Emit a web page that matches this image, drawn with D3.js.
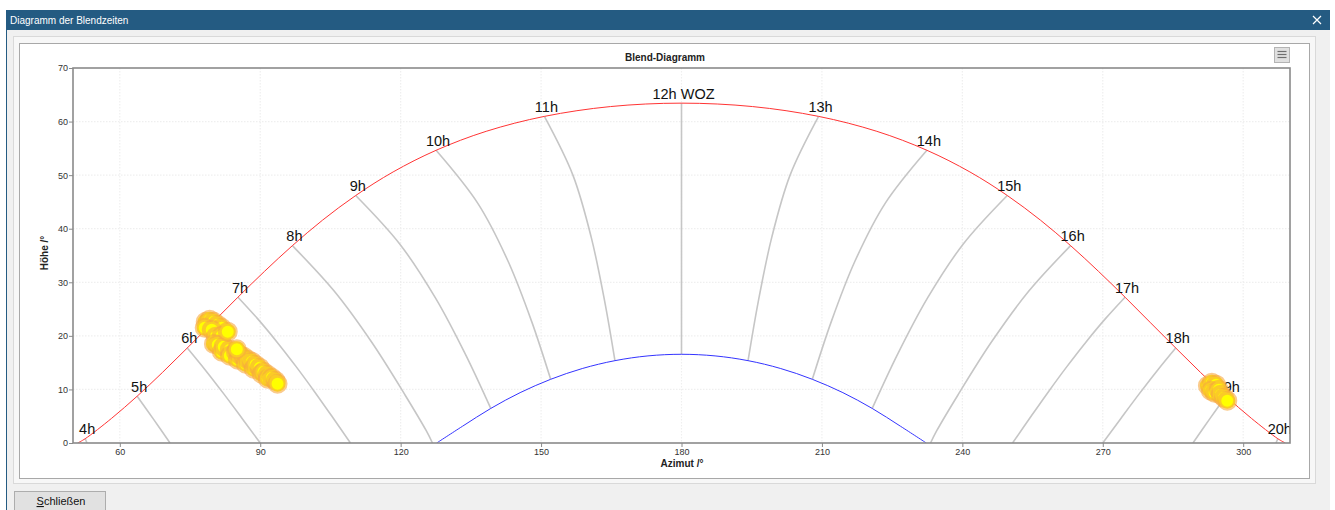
<!DOCTYPE html>
<html>
<head>
<meta charset="utf-8">
<script src="https://cdn.jsdelivr.net/npm/d3@7"></script>
<style>
  body { margin: 0; background: #fff; }
  svg { display: block; }
</style>
</head>
<body>
<svg id="chart" width="1335" height="510"></svg>
<script>
// achsen
var azTicks = [60, 90, 120, 150, 180, 210, 240, 270, 300];
var altTicks = [0, 10, 20, 30, 40, 50, 60, 70];

// sonnenbahn 21. juni (rot)
var summerAz  = [51.0, 52.6, 58.24, 63.71, 69.1, 74.42, 79.79, 85.24, 90.9, 96.87, 103.3, 110.4, 118.39, 127.57, 138.27, 150.71, 164.81, 180,
                 195.19, 209.29, 221.73, 232.43, 241.61, 249.6, 256.7, 263.13, 269.1, 274.76, 280.21, 285.58, 290.9, 296.29, 301.76, 307.4, 309.0];
var summerAlt = [0, 0.8, 4.6, 8.74, 13.16, 17.74, 22.44, 27.22, 32.03, 36.84, 41.59, 46.2, 50.6, 54.64, 58.18, 60.97, 62.8, 63.44,
                 62.8, 60.97, 58.18, 54.64, 50.6, 46.2, 41.59, 36.84, 32.03, 27.22, 22.44, 17.74, 13.16, 8.74, 4.6, 0.8, 0];

// sonnenbahn 21. dezember (blau)
var winterAz  = [127.7, 133.2, 139.25, 145.52, 152.05, 158.8, 165.78, 172.83, 180, 187.17, 194.22, 201.2, 207.95, 214.48, 220.75, 226.8, 232.3];
var winterAlt = [0, 3.12, 6.45, 9.4, 11.89, 13.9, 15.37, 16.26, 16.56, 16.26, 15.37, 13.9, 11.89, 9.4, 6.45, 3.12, 0];

// stundenlinien (wahre ortszeit), [azimut, hoehe]
var hourLabels = ["4h", "5h", "6h", "7h", "8h", "9h", "10h", "11h", "12h WOZ", "13h", "14h", "15h", "16h", "17h", "18h", "19h", "20h"];
var hourLines = [
  [[52.6, 0.8], [53.0, 0]],
  [[63.71, 8.74], [67.15, 4.5], [70.73, 0]],
  [[74.42, 17.74], [78.21, 13.69], [82.22, 9.17], [86.13, 4.59], [90, 0]],
  [[85.24, 27.22], [89.38, 23.26], [93.65, 18.78], [97.71, 14.21], [101.6, 9.58], [105.39, 4.89], [109.27, 0]],
  [[96.87, 36.84], [105.88, 28.27], [113.86, 18.75], [120.97, 8.92], [125.47, 2.29], [126.8, 0]],
  [[110.4, 46.2], [119.8, 37.15], [127.46, 27.03], [133.82, 16.58], [139.25, 6.45]],
  [[127.57, 54.64], [136.49, 44.73], [143.0, 33.83], [148.0, 22.66], [152.05, 11.89]],
  [[150.71, 60.97], [156.78, 50.05], [160.72, 38.38], [163.55, 26.62], [165.78, 15.37]],
  [[180, 63.44], [180, 16.56]],
  [[209.29, 60.97], [203.22, 50.05], [199.28, 38.38], [196.45, 26.62], [194.22, 15.37]],
  [[232.43, 54.64], [223.51, 44.73], [217.0, 33.83], [212.0, 22.66], [207.95, 11.89]],
  [[249.6, 46.2], [240.2, 37.15], [232.54, 27.03], [226.18, 16.58], [220.75, 6.45]],
  [[263.13, 36.84], [254.12, 28.27], [246.14, 18.75], [239.03, 8.92], [234.53, 2.29], [233.2, 0]],
  [[274.76, 27.22], [270.62, 23.26], [266.35, 18.78], [262.29, 14.21], [258.4, 9.58], [254.61, 4.89], [250.73, 0]],
  [[285.58, 17.74], [281.79, 13.69], [277.78, 9.17], [273.87, 4.59], [270, 0]],
  [[296.29, 8.74], [292.85, 4.5], [289.27, 0]],
  [[307.4, 0.8], [307.0, 0]]
];

// blendzeitpunkte
var glareAz  = [78.35, 79.21, 80.06, 80.92, 81.77, 78.14, 79.64, 80.49, 81.77,
                80.1, 80.92, 81.8, 82.2, 83.5, 83.5, 84.8, 85.2, 85.6, 86.5, 86.9, 87.4, 88.2, 88.6, 89.0, 89.9, 90.3, 90.7, 91.6, 91.6, 92.5, 93.3,
                83.06, 85.0, 93.7,
                292.46, 293.3, 294.2, 293.1, 293.9, 294.8, 295.2, 295.9, 296.6];
var glareAlt = [22.64, 23.02, 22.64, 22.08, 21.52, 21.52, 21.15, 19.84, 20.03,
                18.5, 18.35, 17.04, 17.98, 17.42, 16.3, 17.04, 15.55, 16.48, 16.11, 14.8, 15.55, 15.18, 13.87, 14.62, 14.06, 12.94, 13.31, 12.75, 12.0, 12.19, 11.63,
                20.78, 17.5, 11.07,
                10.7, 11.26, 10.89, 9.76, 9.39, 9.95, 9.02, 8.46, 7.9];

var svg = d3.select("#chart");
var uiFont = "'Liberation Sans', Arial, sans-serif";
var chartFont = "'Liberation Sans', Arial, sans-serif";

// ---- fenster ----
svg.append("rect").attr("x", 6).attr("y", 10).attr("width", 1324).attr("height", 500).attr("fill", "#f0f0f0");
svg.append("rect").attr("x", 6).attr("y", 10).attr("width", 1324).attr("height", 20).attr("fill", "#245b82");
svg.append("line").attr("x1", 6.5).attr("x2", 6.5).attr("y1", 30).attr("y2", 510).attr("stroke", "#245b82");
svg.append("text").attr("x", 10).attr("y", 23.5).attr("fill", "#fff")
  .style("font-family", uiFont).style("font-size", "10px").text("Diagramm der Blendzeiten");
svg.append("path").attr("d", "M1313,16L1321,24M1321,16L1313,24").attr("stroke", "#fff").attr("stroke-width", 1.2);

svg.append("rect").attr("x", 13.5).attr("y", 36.5).attr("width", 1302).attr("height", 447)
  .attr("fill", "#f7f7f7").attr("stroke", "#d9d9d9");
svg.append("rect").attr("x", 19.5).attr("y", 43.5).attr("width", 1290).attr("height", 435)
  .attr("fill", "#fff").attr("stroke", "#a8a8a8");

// menue-knopf
svg.append("rect").attr("x", 1274.5).attr("y", 47.5).attr("width", 15).attr("height", 15)
  .attr("fill", "#e0e0e0").attr("stroke", "#b4b4b4");
[51.5, 54.5, 57.5].forEach(function(yy){
  svg.append("line").attr("x1", 1277.5).attr("x2", 1286.5).attr("y1", yy).attr("y2", yy)
    .attr("stroke", "#6e6e6e").attr("stroke-width", 1.2);
});

// schliessen-knopf
svg.append("rect").attr("x", 14.5).attr("y", 491.5).attr("width", 91).attr("height", 26)
  .attr("fill", "#e1e1e1").attr("stroke", "#adadad");
var btn = svg.append("text").attr("x", 61).attr("y", 505).attr("text-anchor", "middle")
  .style("font-family", uiFont).style("font-size", "11px").attr("fill", "#111");
btn.append("tspan").style("text-decoration", "underline").text("S");
btn.append("tspan").text("chließen");

// ---- diagramm ----
var plotL = 73, plotR = 1290, plotT = 68, plotB = 443;
var x = d3.scaleLinear().domain([50, 310]).range([plotL, plotR]);
var y = d3.scaleLinear().domain([0, 70]).range([plotB, plotT]);

svg.append("text").attr("x", 665).attr("y", 61).attr("text-anchor", "middle")
  .style("font-family", chartFont).style("font-size", "10px").style("font-weight", "bold")
  .attr("fill", "#222").text("Blend-Diagramm");

// gitter
var grid = svg.append("g");
grid.selectAll(".vg").data(azTicks).enter().append("line")
  .attr("x1", function(d){ return x(d); }).attr("x2", function(d){ return x(d); })
  .attr("y1", plotT).attr("y2", plotB)
  .attr("stroke", "#efefef").attr("stroke-width", 1.2).attr("stroke-dasharray", "1.5,1.5");
grid.selectAll(".hg").data(altTicks.slice(1, -1)).enter().append("line")
  .attr("x1", plotL).attr("x2", plotR)
  .attr("y1", function(d){ return y(d); }).attr("y2", function(d){ return y(d); })
  .attr("stroke", "#efefef").attr("stroke-width", 1.2).attr("stroke-dasharray", "1.5,1.5");

svg.append("clipPath").attr("id", "plotclip").append("rect")
  .attr("x", plotL).attr("y", plotT).attr("width", plotR - plotL).attr("height", plotB - plotT);
var plot = svg.append("g").attr("clip-path", "url(#plotclip)");

var line = d3.line()
  .x(function(d){ return x(d[0]); })
  .y(function(d){ return y(d[1]); })
  .curve(d3.curveCatmullRom);

plot.selectAll(".hour").data(hourLines).enter().append("path")
  .attr("d", line).attr("fill", "none").attr("stroke", "#c6c6c6").attr("stroke-width", 1.6);

plot.append("path").attr("d", line(d3.zip(summerAz, summerAlt)))
  .attr("fill", "none").attr("stroke", "#ff3434").attr("stroke-width", 1);
plot.append("path").attr("d", line(d3.zip(winterAz, winterAlt)))
  .attr("fill", "none").attr("stroke", "#3434ff").attr("stroke-width", 1);

plot.selectAll(".hlabel").data(hourLines).enter().append("text")
  .attr("x", function(d){ return x(d[0][0]) + 2; })
  .attr("y", function(d){ return y(d[0][1]) - 4.5; })
  .attr("text-anchor", "middle")
  .style("font-family", chartFont).style("font-size", "14.5px").attr("fill", "#111")
  .text(function(d, i){ return hourLabels[i]; });

plot.selectAll(".glare").data(d3.zip(glareAz, glareAlt)).enter().append("circle")
  .attr("cx", function(d){ return x(d[0]); })
  .attr("cy", function(d){ return y(d[1]); })
  .attr("r", 8)
  .attr("fill", "#ffff00")
  .attr("stroke", "#f7a840").attr("stroke-opacity", 0.6).attr("stroke-width", 4);

// rahmen
svg.append("rect").attr("x", plotL).attr("y", plotT).attr("width", plotR - plotL).attr("height", plotB - plotT)
  .attr("fill", "none").attr("stroke", "#8a8a8a").attr("stroke-width", 1.6);

// achsen
var xAxis = svg.append("g").attr("transform", "translate(0," + plotB + ")")
  .call(d3.axisBottom(x).tickValues(azTicks).tickSize(4).tickPadding(2));
var yAxis = svg.append("g").attr("transform", "translate(" + plotL + ",0)")
  .call(d3.axisLeft(y).tickValues(altTicks).tickSize(4).tickPadding(1));
[xAxis, yAxis].forEach(function(a){
  a.select(".domain").remove();
  a.selectAll("line").attr("stroke", "#8a8a8a");
  a.selectAll("text").style("font-family", chartFont).style("font-size", "9px").attr("fill", "#333");
});

svg.append("text").attr("x", 682).attr("y", 467).attr("text-anchor", "middle")
  .style("font-family", chartFont).style("font-size", "10px").style("font-weight", "bold")
  .attr("fill", "#222").text("Azimut /°");
svg.append("text").attr("transform", "translate(48,253) rotate(-90)").attr("text-anchor", "middle")
  .style("font-family", chartFont).style("font-size", "10px").style("font-weight", "bold")
  .attr("fill", "#222").text("Höhe /°");
</script>
</body>
</html>
